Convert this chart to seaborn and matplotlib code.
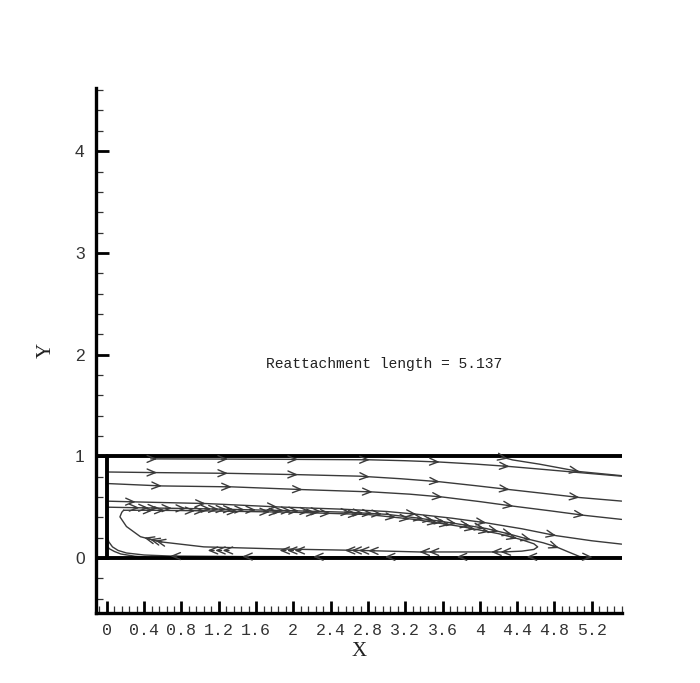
import numpy as np
import pandas as pd
import matplotlib
matplotlib.use("Agg")
import matplotlib.pyplot as plt
from matplotlib.ticker import FixedLocator, MultipleLocator
import seaborn as sns

# ---------------- data ----------------
x_ticks = [0, 0.4, 0.8, 1.2, 1.6, 2, 2.4, 2.8, 3.2, 3.6, 4, 4.4, 4.8, 5.2]
x_tick_labels = ["0", "0.4", "0.8", "1.2", "1.6", "2", "2.4", "2.8", "3.2", "3.6", "4", "4.4", "4.8", "5.2"]
y_ticks = [0, 1, 2, 3, 4]
y_tick_labels = ["0", "1", "2", "3", "4"]

annotation_text = "Reattachment length = 5.137"

# channel walls
wall_top_x = [-0.12, 5.52]
wall_top_y = [1.0, 1.0]
wall_bot_x = [-0.12, 5.52]
wall_bot_y = [0.0, 0.0]
wall_left_x = [0.0, 0.0]
wall_left_y = [0.0, 1.0]

# streamlines (x, y) in flow order
s1_x = [0.50, 1.30, 2.05, 2.82, 3.20, 3.57, 3.95, 4.32, 4.70, 5.07, 5.52]
s1_y = [0.975, 0.973, 0.970, 0.966, 0.957, 0.944, 0.924, 0.900, 0.870, 0.840, 0.805]
s1_arrows = [0.54, 1.30, 2.05, 2.82, 3.57, 4.32]

s1b_x = [4.25, 4.35, 4.64, 5.07, 5.52]
s1b_y = [0.990, 0.965, 0.923, 0.850, 0.810]
s1b_arrows = [4.30, 5.07]

s2_x = [0.02, 0.54, 1.30, 2.05, 2.71, 3.15, 3.57, 3.95, 4.32, 4.70, 5.07, 5.52]
s2_y = [0.846, 0.840, 0.833, 0.820, 0.805, 0.780, 0.750, 0.712, 0.673, 0.634, 0.595, 0.560]
s2_arrows = [0.54, 1.30, 2.05, 2.82, 3.57, 4.32, 5.07]

s3_x = [0.02, 0.59, 1.34, 2.10, 2.85, 3.25, 3.60, 4.00, 4.36, 4.75, 5.12, 5.52]
s3_y = [0.732, 0.709, 0.700, 0.673, 0.650, 0.628, 0.600, 0.555, 0.510, 0.465, 0.420, 0.380]
s3_arrows = [0.59, 1.34, 2.10, 2.85, 3.60, 4.36, 5.12]

s4_x = [0.02, 0.31, 1.06, 1.83, 2.54, 3.00, 3.32, 3.70, 4.07, 4.45, 4.82, 5.20, 5.52]
s4_y = [0.559, 0.552, 0.536, 0.503, 0.480, 0.458, 0.431, 0.392, 0.346, 0.288, 0.220, 0.170, 0.137]
s4_arrows = [0.31, 1.06, 1.83, 3.32, 4.07, 4.82]

s5_x = [0.02, 0.30, 1.00, 2.00, 2.60, 3.00, 3.32, 3.70, 4.07, 4.30, 4.50, 4.68, 4.82, 4.95, 5.07, 5.20, 5.52]
s5_y = [0.500, 0.495, 0.485, 0.465, 0.450, 0.430, 0.395, 0.345, 0.290, 0.240, 0.190, 0.150, 0.110, 0.060, 0.015, 0.008, 0.006]
s5_arrows = [0.35, 0.45, 0.55, 0.70, 0.85, 1.12, 1.20, 1.28, 1.36, 1.48, 1.60, 1.90, 1.98, 2.06, 2.18,
             2.30, 2.62, 2.75, 2.85, 2.95, 3.40, 3.50, 3.62, 3.75, 3.90, 4.05, 4.20, 4.35, 4.55, 4.85, 5.21]

loop_top_x = [0.18, 0.50, 1.00, 2.00, 2.80, 3.30, 3.80, 4.20, 4.45, 4.58, 4.62]
loop_top_y = [0.470, 0.470, 0.465, 0.450, 0.428, 0.380, 0.310, 0.240, 0.180, 0.140, 0.110]
loop_top_arrows = [0.50, 0.62, 0.95, 1.05, 1.40, 1.75, 1.85, 2.25, 2.40, 2.70, 3.10, 3.25, 3.55, 3.68, 3.95, 4.10, 4.40]

loop_bot_x = [4.62, 4.58, 4.45, 4.25, 3.35, 2.72, 1.83, 1.04, 0.57, 0.36, 0.21, 0.14, 0.16, 0.18]
loop_bot_y = [0.110, 0.085, 0.068, 0.060, 0.060, 0.075, 0.090, 0.110, 0.160, 0.210, 0.310, 0.405, 0.450, 0.470]
loop_bot_arrows = [4.12, 4.22, 3.35, 3.45, 2.55, 2.62, 2.70, 2.80, 1.85, 1.93, 2.01, 1.08, 1.16, 1.24, 0.40, 0.46, 0.52]

wall_flow_x = [5.00, 4.50, 3.75, 2.98, 2.21, 1.45, 0.68, 0.40, 0.21, 0.12, 0.06, 0.02, 0.007]
wall_flow_y = [0.012, 0.012, 0.012, 0.012, 0.013, 0.015, 0.020, 0.030, 0.050, 0.075, 0.110, 0.160, 0.210]
wall_flow_arrows = [0.68, 1.45, 2.21, 2.98, 3.75, 4.50]

corner_x = [0.42, 0.30, 0.15, 0.08, 0.03, 0.007]
corner_y = [0.010, 0.018, 0.040, 0.065, 0.090, 0.110]

# ---------------- figure ----------------
sns.set_style("white")
plt.rcParams["font.family"] = ["Liberation Sans", "DejaVu Sans"]

fig = plt.figure(figsize=(7.0, 6.83), dpi=100)
ax = fig.add_axes([0.1367, 0.1025, 0.7513, 0.7685])
ax.set_xlim(-0.12, 5.52)
ax.set_ylim(-0.54, 4.62)

line_color = "#3a3a3a"
paths = [
    ("s1", s1_x, s1_y),
    ("s1b", s1b_x, s1b_y),
    ("s2", s2_x, s2_y),
    ("s3", s3_x, s3_y),
    ("s4", s4_x, s4_y),
    ("s5", s5_x, s5_y),
    ("loop", loop_top_x + loop_bot_x[1:], loop_top_y + loop_bot_y[1:]),
    ("wall", wall_flow_x, wall_flow_y),
    ("corner", corner_x, corner_y),
]
rows = []
for name, xs, ys in paths:
    for i, (xv, yv) in enumerate(zip(xs, ys)):
        rows.append({"line": name, "order": i, "x": xv, "y": yv})
df = pd.DataFrame(rows)
sns.lineplot(data=df, x="x", y="y", units="line", estimator=None, sort=False,
             color=line_color, lw=1.0, ax=ax, legend=False)

# walls
walls = pd.DataFrame({
    "x": wall_top_x + wall_bot_x + wall_left_x,
    "y": wall_top_y + wall_bot_y + wall_left_y,
    "w": ["top"] * 2 + ["bot"] * 2 + ["left"] * 2,
})
sns.lineplot(data=walls, x="x", y="y", units="w", estimator=None, sort=False,
             color="black", lw=2.8, ax=ax, legend=False)


def draw_arrows(xs, ys, arrow_xs):
    xs = np.asarray(xs, float)
    ys = np.asarray(ys, float)
    direction = np.sign(xs[-1] - xs[0])
    order = np.argsort(xs)
    xp, yp = xs[order], ys[order]
    for xa in arrow_xs:
        ya = np.interp(xa, xp, yp)
        xt = xa - direction * 0.07
        yt = np.interp(xt, xp, yp)
        ax.annotate("", xy=(xa, ya), xytext=(xt, yt),
                    arrowprops=dict(arrowstyle="->,head_length=0.6,head_width=0.25",
                                    color=line_color, lw=1.0, shrinkA=0, shrinkB=0))


draw_arrows(s1_x, s1_y, s1_arrows)
draw_arrows(s1b_x, s1b_y, s1b_arrows)
draw_arrows(s2_x, s2_y, s2_arrows)
draw_arrows(s3_x, s3_y, s3_arrows)
draw_arrows(s4_x, s4_y, s4_arrows)
draw_arrows(s5_x, s5_y, s5_arrows)
draw_arrows(loop_top_x, loop_top_y, loop_top_arrows)
draw_arrows(loop_bot_x[:6], loop_bot_y[:6], [a for a in loop_bot_arrows if a > 0.6])
draw_arrows(loop_bot_x[6:10], loop_bot_y[6:10], [a for a in loop_bot_arrows if a <= 0.6])
draw_arrows(wall_flow_x, wall_flow_y, wall_flow_arrows)

# annotation
ax.text(1.71, 1.91, annotation_text, family=["Liberation Mono", "DejaVu Sans Mono"],
        fontsize=10.5, ha="left", va="center", color="#222222")

# axes styling
for side in ["top", "right"]:
    ax.spines[side].set_visible(False)
for side in ["left", "bottom"]:
    ax.spines[side].set_linewidth(2.4)
    ax.spines[side].set_color("black")

ax.xaxis.set_major_locator(FixedLocator(x_ticks))
ax.set_xticklabels(x_tick_labels, family=["Liberation Mono", "DejaVu Sans Mono"], fontsize=12)
ax.xaxis.set_minor_locator(MultipleLocator(0.08))
ax.yaxis.set_major_locator(FixedLocator(y_ticks))
ax.set_yticklabels(y_tick_labels, fontsize=12.5)
ax.yaxis.set_minor_locator(MultipleLocator(0.2))

ax.tick_params(axis="both", which="major", direction="in", length=9, width=2.0,
               color="black", labelcolor="#333333")
ax.tick_params(axis="both", which="minor", direction="in", length=5, width=0.9, color="#333333")
ax.tick_params(axis="x", which="major", pad=7)
ax.tick_params(axis="y", which="major", pad=8)
ax.tick_params(bottom=True, left=True, which="both")

ax.set_xlabel("X", family=["Liberation Serif", "DejaVu Serif"], fontsize=15, labelpad=3, color="#222222")
ax.set_ylabel("Y", family=["Liberation Serif", "DejaVu Serif"], fontsize=15, labelpad=14, color="#222222")

fig.savefig("out.png", dpi=100, facecolor="white")
